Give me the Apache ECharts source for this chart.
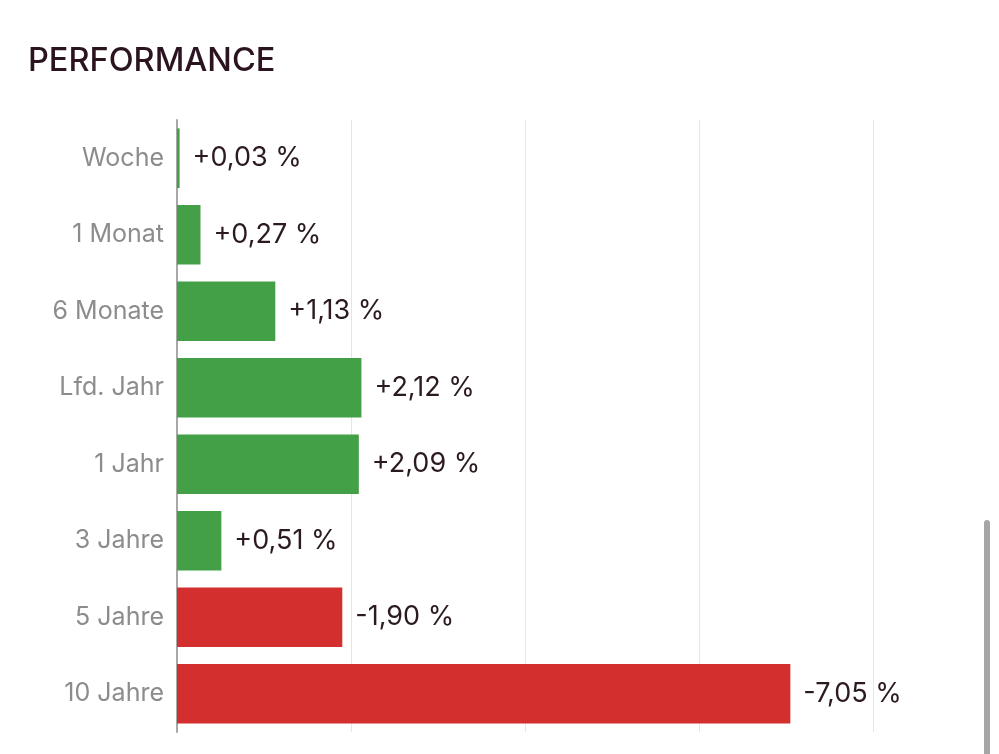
<!DOCTYPE html>
<html><head><meta charset="utf-8">
<script src="https://cdn.jsdelivr.net/npm/echarts@6/dist/echarts.min.js"></script>
<style>html,body{margin:0;padding:0;background:#fff}#c{width:999px;height:754px}</style>
</head><body><div id="c"></div>
<script>
const categories = ['Woche','1 Monat','6 Monate','Lfd. Jahr','1 Jahr','3 Jahre','5 Jahre','10 Jahre'];
const values = [0.03, 0.27, 1.13, 2.12, 2.09, 0.51, -1.90, -7.05];
const xTicks = [0, 2, 4, 6, 8];

const fmt = v => (v >= 0 ? '+' : '-') + Math.abs(v).toFixed(2).replace('.', ',') + ' %';
const chart = echarts.init(document.getElementById('c'));
chart.setOption({
  animation: false,
  title: {text: 'PERFORMANCE', left: 23, top: 40, textStyle: {fontFamily: 'Inter', fontSize: 32.5, fontWeight: 500, color: '#2b1420'}},
  grid: {left: 177, right: 126, top: 120, bottom: 22},
  xAxis: {type: 'value', min: xTicks[0], max: xTicks[xTicks.length-1], interval: 2,
    axisLabel: {show: false}, axisLine: {show: false}, axisTick: {show: false},
    splitLine: {show: true, lineStyle: {color: '#e6e6e6', width: 1}}},
  yAxis: {type: 'category', data: categories, inverse: true,
    axisLine: {show: true, lineStyle: {color: '#a8a8a8', width: 2}},
    axisTick: {show: false},
    axisLabel: {fontFamily: 'Inter', fontSize: 25, color: '#8c8c8c', margin: 13, padding: [4, 0, 0, 0]}},
  series: [{type: 'bar', barWidth: '78%',
    data: values.map(v => ({value: Math.abs(v), itemStyle: {color: v >= 0 ? '#43a047' : '#d32f2f'}})),
    label: {show: true, position: 'right', distance: 13, fontFamily: 'Inter', fontSize: 27, color: '#2b1a22',
      padding: [4, 0, 0, 0],
      formatter: p => fmt(values[p.dataIndex])}}],
  graphic: [{type: 'rect', shape: {x: 984, y: 520, width: 6, height: 240, r: 3}, style: {fill: '#a6a6a6'}}]
});
</script></body></html>
